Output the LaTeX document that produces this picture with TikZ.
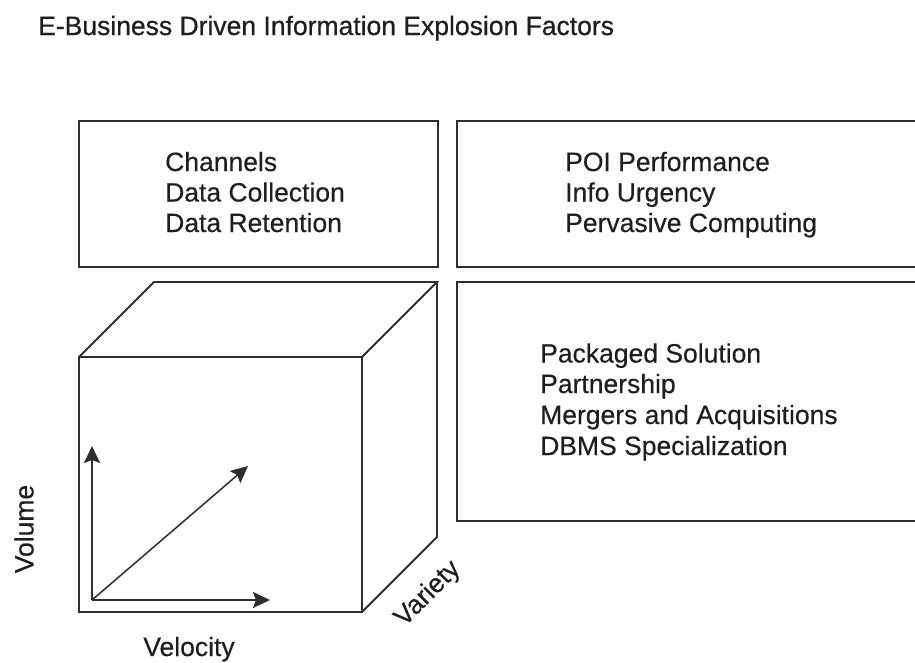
\documentclass[tikz,border=0pt]{standalone}
\usepackage{fontspec}
\setmainfont{Liberation Sans}
\newfontfamily\heavysans[FakeBold=0.6]{Liberation Sans}
\newfontfamily\medsans[FakeBold=0.3]{Liberation Sans}
\usetikzlibrary{arrows.meta}
\definecolor{ink}{HTML}{1E1E1E}
\definecolor{edge}{HTML}{2E2E2E}
\tikzset{
  panel/.style={draw=edge, line width=2.2pt},
  cubeedge/.style={draw=edge, line width=1.9pt, line join=miter},
  axis/.style={draw=edge, line width=2.1pt, -{Stealth[length=17pt,width=16pt,inset=3pt]}},
  lbl/.style={inner sep=0pt, text=ink, font=\medsans\fontsize{26.5}{30.5}\selectfont},
  item/.style={lbl, anchor=base west},
}
\begin{document}
\begin{tikzpicture}[x=1pt,y=-1pt]
\clip (0,0) rectangle (915,662);
\fill[white] (0,0) rectangle (915,662);

% title
\node[item, font=\heavysans\fontsize{26.5}{30.5}\selectfont] (title) at (38,35) {E-Business Driven Information Explosion Factors};

% upper left panel
\draw[panel] (79,121) rectangle (438,267);
\node[item] (c1) at (165,171) {Channels};
\node[item] (c2) at (165,201.5) {Data Collection};
\node[item] (c3) at (165,232) {Data Retention};

% upper right panel
\draw[panel] (457,121) rectangle (930,267);
\node[item] (p1) at (565,171) {POI Performance};
\node[item] (p2) at (565,201.5) {Info Urgency};
\node[item] (p3) at (565,232) {Pervasive Computing};

% lower right panel
\draw[panel] (457,282) rectangle (930,521);
\node[item] (s1) at (540,362.5) {Packaged Solution};
\node[item] (s2) at (540,393) {Partnership};
\node[item] (s3) at (540,424) {Mergers and Acquisitions};
\node[item] (s4) at (540,455) {DBMS Specialization};

% cube: front face plus top and right faces
\coordinate (fa) at (79,357);
\coordinate (fb) at (362,357);
\coordinate (fc) at (362,612);
\coordinate (fd) at (79,612);
\coordinate (ba) at (154,282);
\coordinate (bb) at (437,282);
\coordinate (bc) at (437,537);
\draw[cubeedge] (fa) rectangle (fc);
\draw[cubeedge] (fa) -- (ba) -- (bb) -- (fb);
\draw[cubeedge] (bb) -- (bc) -- (fc);

% axes inside the cube
\coordinate (o) at (92,600);
\coordinate (up) at (92,446);
\coordinate (rt) at (270,600);
\coordinate (dg) at (248,466);
\draw[axis] (o) -- (up);
\draw[axis] (o) -- (rt);
\draw[axis, line width=1.5pt] (o) -- (dg);

% axis names
\node[lbl, rotate=90] (vol) at (24,529) {Volume};
\node[lbl, anchor=base] (vel) at (189,656) {Velocity};
\node[lbl, rotate=45] (var) at (428,594) {Variety};
\end{tikzpicture}
\end{document}
